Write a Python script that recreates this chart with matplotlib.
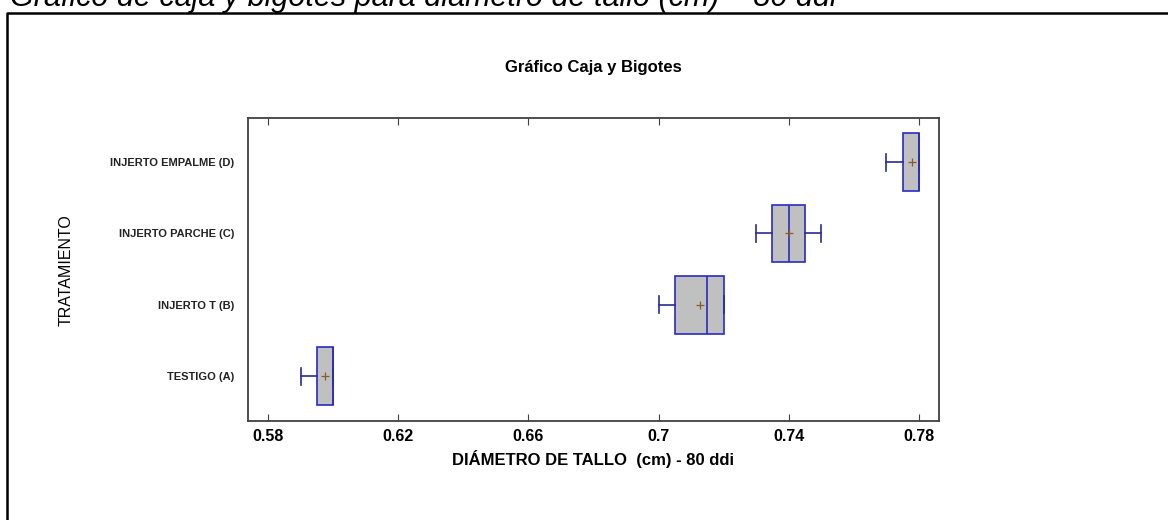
import matplotlib
matplotlib.use('Agg')
import matplotlib.pyplot as plt
from matplotlib.lines import Line2D

# datos del grafico
categorias = ['TESTIGO (A)', 'INJERTO T (B)', 'INJERTO PARCHE (C)', 'INJERTO EMPALME (D)']
minimos = [0.590, 0.700, 0.730, 0.770]
q1 = [0.595, 0.705, 0.735, 0.775]
medianas = [0.600, 0.715, 0.740, 0.780]
q3 = [0.600, 0.720, 0.745, 0.780]
maximos = [0.600, 0.720, 0.750, 0.780]
medias = [0.5976, 0.7127, 0.740, 0.7779]

xticks = [0.58, 0.62, 0.66, 0.70, 0.74, 0.78]
xtick_labels = ['0.58', '0.62', '0.66', '0.7', '0.74', '0.78']

plt.rcParams['font.family'] = ['Liberation Sans', 'DejaVu Sans']

stats = []
for i in range(len(categorias)):
    stats.append(dict(label=categorias[i], whislo=minimos[i], q1=q1[i], med=medianas[i],
                      q3=q3[i], whishi=maximos[i], mean=medias[i], fliers=[]))

azul = '#2b2bc0'
gris = '#404040'

fig = plt.figure(figsize=(11.68, 5.2), dpi=100)
ax = fig.add_axes([248 / 1168, 1 - 421 / 520, (939 - 248) / 1168, (421 - 118) / 520])

ax.bxp(stats, positions=range(1, len(categorias) + 1), vert=False, widths=0.81,
       capwidths=0.24, patch_artist=True, showmeans=True, showfliers=False,
       boxprops=dict(facecolor='#c0c0c0', edgecolor=azul, linewidth=1.2),
       medianprops=dict(color=azul, linewidth=1.2),
       whiskerprops=dict(color='#2a2a9a', linewidth=1.2),
       capprops=dict(color='#2a2a9a', linewidth=1.2),
       meanprops=dict(marker='+', markeredgecolor='#8b5a2b', markersize=6, markeredgewidth=0.9))

ax.set_xlim(0.5738, 0.7862)
ax.set_ylim(0.37, 4.62)
ax.set_xticks(xticks)
ax.set_xticklabels(xtick_labels, fontsize=11.5, fontweight='bold')
ax.set_yticks(range(1, len(categorias) + 1))
ax.set_yticklabels(categorias, fontsize=8, fontweight='bold', color='#222222')
ax.tick_params(axis='x', direction='in', top=True, length=5, color=gris, pad=6)
ax.tick_params(axis='y', length=0, pad=10)
for s in ax.spines.values():
    s.set_color(gris)
    s.set_linewidth(1.3)

ax.set_xlabel('DIÁMETRO DE TALLO  (cm) - 80 ddi', fontsize=12, fontweight='bold', labelpad=4)
ax.set_title('Gráfico Caja y Bigotes', fontsize=12, fontweight='bold', pad=33)
fig.text(66 / 1168, 1 - 270 / 520, 'TRATAMIENTO', rotation=90, ha='center', va='center',
         fontsize=11.5)

# leyenda de la figura cortada arriba y marco exterior
fig.text(10 / 1168, 1 - 6 / 520, 'Gráfico de caja y bigotes para diámetro de tallo (cm) – 80 ddi',
         fontsize=22, style='italic', ha='left', va='baseline')
fig.add_artist(Line2D([7 / 1168, 7 / 1168, 1.0], [0, 1 - 13 / 520, 1 - 13 / 520],
                      transform=fig.transFigure, color='black', linewidth=1.8))

fig.savefig('out.png', dpi=100)
